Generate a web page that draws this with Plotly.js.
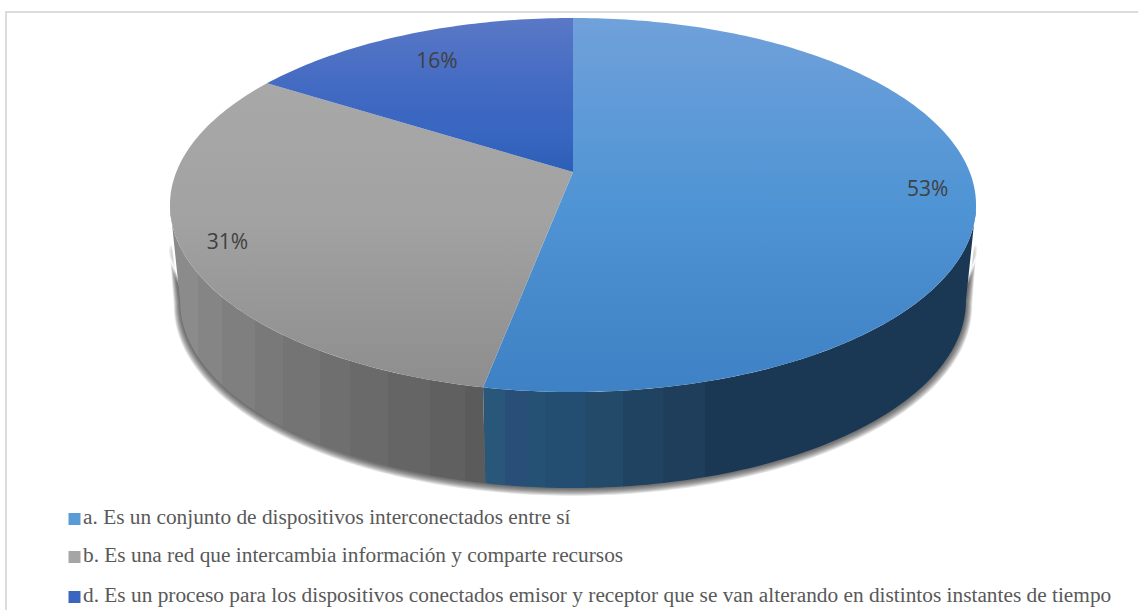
<!DOCTYPE html>
<html>
<head>
<meta charset="utf-8">
<script src="https://cdn.plot.ly/plotly-3.0.1.min.js"></script>
<style>html,body{margin:0;padding:0;background:#fff}#chart{width:1138px;height:610px}</style>
</head>
<body>
<div id="chart"></div>
<script>
// Survey answers and their shares in percent
const categories = [
  "a. Es un conjunto de dispositivos interconectados entre sí",
  "b. Es una red que intercambia información y comparte recursos",
  "d. Es un proceso para los dispositivos conectados emisor y receptor que se van alterando en distintos instantes de tiempo"
];
const shares = [53, 31, 16];
const keyColors = ["#5b9bd5", "#a5a5a5", "#3a66c0"];
const keyRows = [519, 557, 597];

// Vertical shading of each slice's top face
const topShades = [
  [[0, "#70a1da"], [0.25, "#5f9ad8"], [0.5, "#4f94d4"], [0.72, "#488bcd"], [1, "#3e81c4"]],
  [[0, "#a8a8a8"], [0.45, "#a2a2a2"], [0.7, "#989898"], [1, "#8d8d8d"]],
  [[0, "#5a78c6"], [0.5, "#4069c2"], [0.75, "#3866c0"], [1, "#2c5fb6"]]
];
const sideBandEdges = [
  [483, 505, 527, 545, 585, 623, 663, 705, 980],
  [170, 198, 222, 255, 283, 320, 350, 388, 430, 465, 483]
];
const sideBandColors = [
  ["#295779", "#294e78", "#255274", "#244d72", "#234a69", "#1f4361", "#1e3e5c", "#1a3854"],
  ["#8b8b8b", "#858585", "#7f7f7f", "#797979", "#747474", "#6f6f6f", "#6a6a6a", "#656565", "#606060", "#5b5b5b"]
];

// Perspective disc: the top face and the base below it
const cx = 573, cy = 172, A = 396.7, B = 181.2, k = 0.1765;
const depth = 96, baseScale = 0.975;
// Directions where the disc's outline is widest, so the wall closes on its tangents
const rightEdge = 100, leftEdge = 260;

function project(deg, r, sx, dy) {
  const t = deg * Math.PI / 180;
  const u = r * Math.sin(t), v = r * Math.cos(t), w = 1 + k * v;
  return [cx + A * sx * u / w, cy + dy - B * v / w];
}
function arc(a0, a1, r, sx, dy) {
  const n = Math.max(2, Math.ceil(Math.abs(a1 - a0)));
  const pts = [];
  for (let i = 0; i <= n; i++) pts.push(project(a0 + (a1 - a0) * i / n, r, sx, dy));
  return pts;
}
function poly(pts, extra) {
  return Object.assign({
    x: pts.map(p => p[0]), y: pts.map(p => p[1]),
    type: "scatter", mode: "none", fill: "toself",
    hoverinfo: "skip", showlegend: false
  }, extra);
}
function bandScale(edges, colors) {
  const lo = edges[0], span = edges[edges.length - 1] - lo, out = [];
  colors.forEach((c, i) => {
    out.push([(edges[i] - lo) / span, c]);
    out.push([(edges[i + 1] - lo) / span, c]);
  });
  return out;
}

const total = shares.reduce((a, b) => a + b, 0);
const bounds = [0];
shares.forEach(s => bounds.push(bounds[bounds.length - 1] + s / total * 360));

const traces = [];

// Soft shadow hugging the wall, built from thin translucent layers
[6, 5.25, 4.5, 3.75, 3, 2.25, 1.5, 0.75].forEach(g => {
  const pts = arc(rightEdge, leftEdge, 1 + g / 396, baseScale, depth + g * 0.6)
    .concat(arc(leftEdge, rightEdge, 1 + g / 900, 0.995, 40));
  traces.push(poly(pts, { fillcolor: "rgba(50,50,50,0.13)" }));
});

// Side walls of the two slices that face the viewer
const sideRanges = [[rightEdge, bounds[1]], [bounds[1], leftEdge]];
sideRanges.forEach((rg, i) => {
  const pts = arc(rg[0], rg[1], 1, 1, 0).concat(arc(rg[1], rg[0], 1, baseScale, depth));
  traces.push(poly(pts, {
    fillgradient: {
      type: "horizontal",
      start: sideBandEdges[i][0],
      stop: sideBandEdges[i][sideBandEdges[i].length - 1],
      colorscale: bandScale(sideBandEdges[i], sideBandColors[i])
    }
  }));
});

// Top faces
const shadeRange = [[18, 392], [80, 392], [18, 172]];
shares.forEach((s, i) => {
  const pts = [project(0, 0, 1, 0)].concat(arc(bounds[i], bounds[i + 1], 1, 1, 0));
  pts.push(project(0, 0, 1, 0));
  traces.push(poly(pts, {
    fillgradient: { type: "vertical", start: shadeRange[i][0], stop: shadeRange[i][1], colorscale: topShades[i] }
  }));
});

// Percentage labels placed along each slice's middle direction
const labelRadius = [0.885, 0.89, 0.8];
const labelPts = shares.map((s, i) => project((bounds[i] + bounds[i + 1]) / 2, labelRadius[i], 1, 3.5));
traces.push({
  x: labelPts.map(p => p[0]), y: labelPts.map(p => p[1]),
  text: shares.map(s => s + "%"),
  type: "scatter", mode: "text", textposition: "middle center",
  textfont: { family: "Open Sans, Noto Sans, sans-serif", size: 21, color: "#404040" },
  hoverinfo: "skip", showlegend: false
});

// Colour key below the pie: one square and one caption per answer
categories.forEach((name, i) => {
  traces.push({
    x: [74.5], y: [keyRows[i]], text: [name], name: name,
    type: "scatter", mode: "markers+text", textposition: "middle right", cliponaxis: false,
    marker: { symbol: "square", size: 12, color: keyColors[i] },
    textfont: { family: "Liberation Serif, serif", size: 21.34, color: "#595959" },
    showlegend: false, hoverinfo: "skip"
  });
});

const layout = {
  width: 1138, height: 610,
  margin: { l: 0, r: 0, t: 0, b: 0, autoexpand: false },
  paper_bgcolor: "#fff", plot_bgcolor: "#fff",
  xaxis: { range: [0, 1138], visible: false, fixedrange: true },
  yaxis: { range: [610, 0], visible: false, fixedrange: true },
  showlegend: false,
  shapes: [
    { type: "line", xref: "x", yref: "y", x0: 5, x1: 1138, y0: 12, y1: 12, line: { color: "#dcdcdc", width: 2 } },
    { type: "line", xref: "x", yref: "y", x0: 6, x1: 6, y0: 12, y1: 610, line: { color: "#dcdcdc", width: 2 } }
  ]
};

Plotly.newPlot("chart", traces, layout, { displayModeBar: false, staticPlot: true });
</script>
</body>
</html>
